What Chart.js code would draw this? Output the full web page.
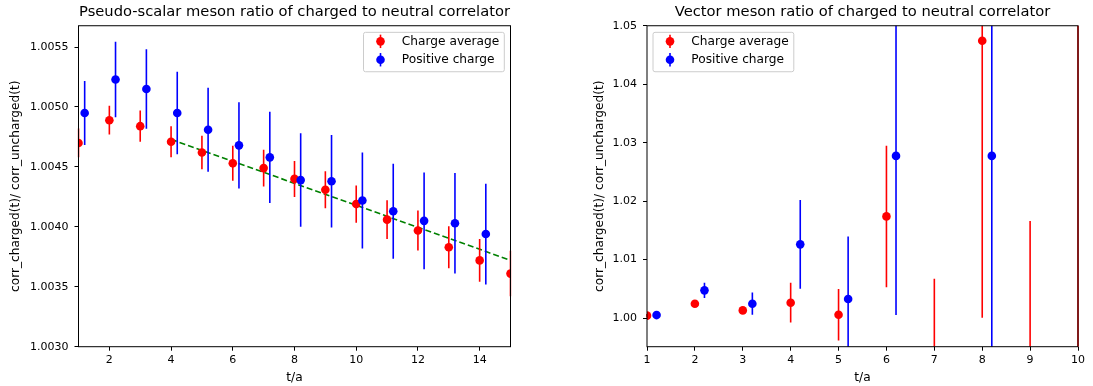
<!DOCTYPE html>
<html>
<head>
<meta charset="utf-8">
<script src="https://cdn.jsdelivr.net/npm/chart.js@4.4.1/dist/chart.umd.min.js"></script>
<style>
  body { margin: 0; background: #fff; }
  .wrap { position: absolute; top: 0; height: 386px; }
  #left { left: 0; width: 546px; }
  #right { left: 546px; width: 547px; }
</style>
</head>
<body>
<div class="wrap" id="left"><canvas id="psChart"></canvas></div>
<div class="wrap" id="right"><canvas id="vecChart"></canvas></div>
<script>
// pseudo-scalar meson
const psT = [1, 2, 3, 4, 5, 6, 7, 8, 9, 10, 11, 12, 13, 14, 15];
const psAvg = [1.00470, 1.00489, 1.00484, 1.00471, 1.00462, 1.00453, 1.00449, 1.00440, 1.00431, 1.00419, 1.00406, 1.00397, 1.00383, 1.00372, 1.00361];
const psAvgErr = [0.00012, 0.00012, 0.00013, 0.00013, 0.00014, 0.000146, 0.000153, 0.00015, 0.000154, 0.000156, 0.000161, 0.000167, 0.000175, 0.000179, 0.00019];
const psPos = [1.00495, 1.00523, 1.00515, 1.00495, 1.00481, 1.00468, 1.00458, 1.00439, 1.00438, 1.00422, 1.00413, 1.00405, 1.00403, 1.00394];
const psPosErr = [0.000267, 0.000315, 0.000332, 0.000344, 0.00035, 0.00036, 0.00038, 0.00039, 0.000386, 0.0004, 0.000397, 0.000404, 0.00042, 0.00042];
const psFitT = [4, 15];
const psFitY = [1.00473, 1.003721];
const psXTicks = [2, 4, 6, 8, 10, 12, 14];
const psYTicks = [1.0030, 1.0035, 1.0040, 1.0045, 1.0050, 1.0055];

// vector meson
const vecT = [1, 2, 3, 4, 5, 6, 7, 8, 9, 10];
const vecAvg = [1.0004, 1.00245, 1.0013, 1.00262, 1.00056, 1.01738, 0.990, 1.04744, 0.988, 0.98];
const vecAvgErr = [0.0003, 0.0004, 0.0004, 0.0034, 0.0044, 0.0121, 0.0167, 0.0474, 0.0286, 0.08];
const vecPos = [1.0005, 1.00473, 1.00245, 1.0126, 1.00325, 1.02773, null, 1.02773, null, null];
const vecPosErr = [0.0003, 0.0013, 0.0019, 0.0076, 0.0107, 0.0272, null, 0.045, null, null];
const vecXTicks = [1, 2, 3, 4, 5, 6, 7, 8, 9, 10];
const vecYTicks = [1.00, 1.01, 1.02, 1.03, 1.04, 1.05];

const posShift = 0.2;

Chart.defaults.font.family = '"DejaVu Sans"';
Chart.defaults.font.size = 11;
Chart.defaults.color = '#000';

function points(ts, vals, errs, shift) {
  let out = [];
  ts.forEach((t, i) => {
    if (vals[i] == null) return;
    out.push({x: t + shift, y: vals[i], e: errs[i]});
  });
  return out;
}

// vertical error bars, drawn just before each dataset's markers
const errorBars = {
  id: 'errorBars',
  beforeDatasetDraw(chart, args) {
    const ds = chart.data.datasets[args.index];
    if (!ds.errorBars) return;
    const {ctx, chartArea: a, scales: {x, y}} = chart;
    ctx.save();
    ctx.beginPath();
    ctx.rect(a.left - 1, a.top, a.right - a.left + 2, a.bottom - a.top);
    ctx.clip();
    ctx.strokeStyle = ds.backgroundColor;
    ctx.lineWidth = 1.6;
    ds.data.forEach(p => {
      const px = x.getPixelForValue(p.x);
      ctx.beginPath();
      ctx.moveTo(px, y.getPixelForValue(p.y - p.e));
      ctx.lineTo(px, y.getPixelForValue(p.y + p.e));
      ctx.stroke();
    });
    ctx.restore();
  }
};

const frame = {
  id: 'frame',
  afterDatasetsDraw(chart) {
    const {ctx, chartArea: a} = chart;
    ctx.save();
    ctx.strokeStyle = '#000';
    ctx.lineWidth = 1;
    ctx.strokeRect(a.left, a.top, a.right - a.left, a.bottom - a.top);
    ctx.restore();
  }
};

const mplLegend = {
  id: 'mplLegend',
  afterDraw(chart, args, opts) {
    const {ctx, chartArea: a} = chart;
    const items = chart.data.datasets.filter(d => d.errorBars);
    ctx.save();
    ctx.font = '12.2px "DejaVu Sans"';
    const textW = Math.max(...items.map(d => ctx.measureText(d.label).width));
    const w = 38.3 + textW + 5, h = 39.4;
    const bx = opts.side === 'right' ? a.right - 6.2 - w : a.left + 6;
    const by = a.top + 6.6;
    ctx.fillStyle = 'rgba(255,255,255,0.8)';
    ctx.strokeStyle = '#cccccc';
    ctx.lineWidth = 1;
    ctx.beginPath();
    ctx.roundRect(bx, by, w, h, 2);
    ctx.fill();
    ctx.stroke();
    items.forEach((d, i) => {
      const cy = by + 9 + i * 18.4;
      const mx = bx + 17;
      ctx.strokeStyle = d.backgroundColor;
      ctx.lineWidth = 1.6;
      ctx.beginPath();
      ctx.moveTo(mx, cy - 6.7);
      ctx.lineTo(mx, cy + 6.7);
      ctx.stroke();
      ctx.fillStyle = d.backgroundColor;
      ctx.beginPath();
      ctx.arc(mx, cy, 4.3, 0, Math.PI * 2);
      ctx.fill();
      ctx.fillStyle = '#000';
      ctx.textBaseline = 'middle';
      ctx.fillText(d.label, bx + 38.3, cy);
    });
    ctx.restore();
  }
};

function markerSet(label, data, color, order) {
  return {
    label: label,
    data: data,
    errorBars: true,
    backgroundColor: color,
    borderColor: color,
    pointRadius: 4.3,
    pointBorderWidth: 0,
    pointHoverRadius: 4.3,
    showLine: false,
    clip: 0,
    order: order
  };
}

function makeOptions(cfg) {
  return {
    responsive: true,
    maintainAspectRatio: false,
    animation: false,
    layout: { padding: { left: 0, right: cfg.padRight, top: 0, bottom: 0 } },
    plugins: {
      legend: { display: false },
      tooltip: { enabled: false },
      title: {
        display: true,
        text: cfg.title,
        fullSize: false,
        font: { size: 14.7, weight: 'normal' },
        padding: { top: 3.7, bottom: 4.4 }
      },
      mplLegend: { side: cfg.legendSide }
    },
    scales: {
      x: {
        type: 'linear',
        min: cfg.xMin,
        max: cfg.xMax,
        afterBuildTicks: s => { s.ticks = cfg.xTicks.map(v => ({value: v})); },
        afterFit: s => { s.height = 39.3; },
        border: { display: false },
        grid: { drawOnChartArea: false, drawTicks: true, tickLength: 4, color: '#000' },
        ticks: { padding: 3, maxRotation: 0, callback: v => v },
        title: { display: true, text: 't/a', font: { size: 12.2 }, padding: { top: 0, bottom: 1.2 } }
      },
      y: {
        min: cfg.yMin,
        max: cfg.yMax,
        afterBuildTicks: s => { s.ticks = cfg.yTicks.map(v => ({value: v})); },
        afterFit: s => { s.width = cfg.yWidth; },
        border: { display: false },
        grid: { drawOnChartArea: false, drawTicks: true, tickLength: 4, color: '#000' },
        ticks: { padding: 6, callback: v => v.toFixed(cfg.yDigits) },
        title: { display: true, text: 'corr_charged(t)/ corr_uncharged(t)', font: { size: 12.2 }, padding: { top: cfg.yTitlePad, bottom: 0 } }
      }
    }
  };
}

const ctx1 = document.getElementById('psChart');

new Chart(ctx1, {
  type: 'scatter',
  data: {
    datasets: [
      markerSet('Charge average', points(psT, psAvg, psAvgErr, 0), '#ff0000', 1),
      markerSet('Positive charge', points(psT.slice(0, psPos.length), psPos, psPosErr, posShift), '#0000ff', 0),
      {
        label: 'fit',
        data: psFitT.map((t, i) => ({x: t, y: psFitY[i]})),
        showLine: true,
        borderColor: '#008000',
        borderWidth: 1.6,
        borderDash: [6, 3],
        pointRadius: 0,
        clip: 0,
        order: 2
      }
    ]
  },
  options: makeOptions({
    title: 'Pseudo-scalar meson ratio of charged to neutral correlator',
    padRight: 35.5, legendSide: 'right',
    xMin: 1, xMax: 15, xTicks: psXTicks,
    yMin: 1.003, yMax: 1.005678, yTicks: psYTicks, yDigits: 4,
    yWidth: 78.5, yTitlePad: 8.7
  }),
  plugins: [errorBars, frame, mplLegend]
});

const ctx2 = document.getElementById('vecChart');

new Chart(ctx2, {
  type: 'scatter',
  data: {
    datasets: [
      markerSet('Charge average', points(vecT, vecAvg, vecAvgErr, 0), '#ff0000', 1),
      markerSet('Positive charge', points(vecT, vecPos, vecPosErr, posShift), '#0000ff', 0)
    ]
  },
  options: makeOptions({
    title: 'Vector meson ratio of charged to neutral correlator',
    padRight: 15, legendSide: 'left',
    xMin: 1, xMax: 10, xTicks: vecXTicks,
    yMin: 0.99509, yMax: 1.05, yTicks: vecYTicks, yDigits: 2,
    yWidth: 101, yTitlePad: 46.7
  }),
  plugins: [errorBars, frame, mplLegend]
});
</script>
</body>
</html>
